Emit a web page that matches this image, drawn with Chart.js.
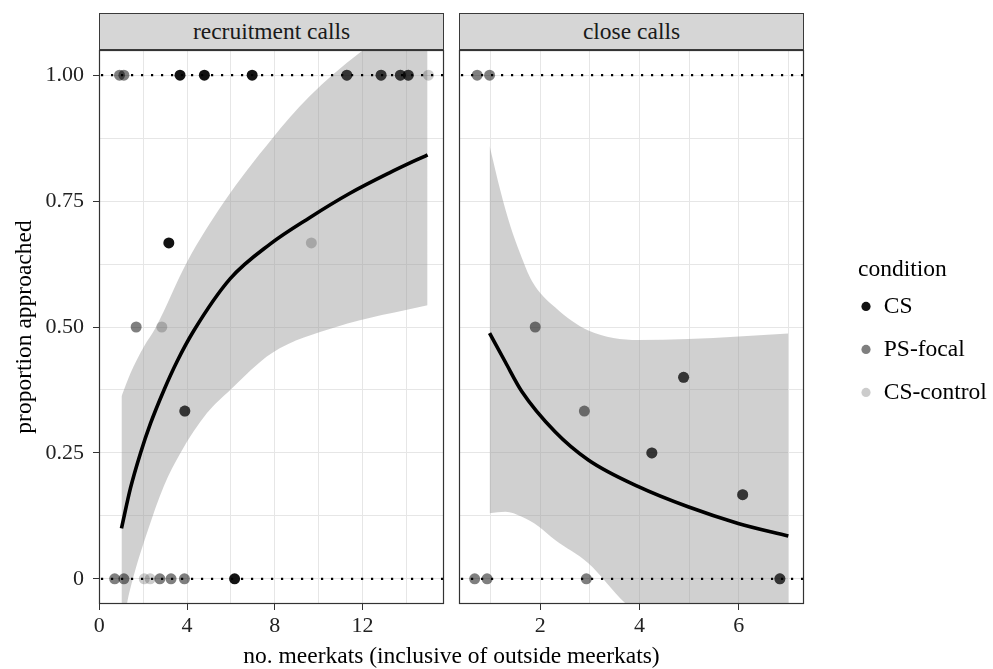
<!DOCTYPE html>
<html>
<head>
<meta charset="utf-8">
<script src="https://cdn.jsdelivr.net/npm/chart.js@4.4.1/dist/chart.umd.min.js"></script>
<style>
  body { margin: 0; background: #fff; overflow: hidden; width: 993px; height: 669px; position: relative;
         font-family: "Liberation Serif", "Times New Roman", serif; }
  canvas { position: absolute; }
  .strip { position: absolute; top: 13px; height: 37px; box-sizing: border-box; background: #d6d6d6;
           border: 1px solid #3a3a3a; font-size: 23.5px; line-height: 35px; text-align: center; color: #1a1a1a; }
  #xtitle { position: absolute; left: 99px; width: 705px; top: 641px; font-size: 23.5px; line-height: 28px;
            text-align: center; color: #000; }
  #legendTitle { position: absolute; left: 858px; top: 254px; font-size: 23.5px; line-height: 28px; color: #000; }
</style>
</head>
<body>
<div class="strip" style="left:99px;width:345px">recruitment calls</div>
<div class="strip" style="left:459px;width:345px">close calls</div>
<canvas id="recruit" width="446" height="619" style="left:0;top:50px"></canvas>
<canvas id="close" width="543" height="619" style="left:450px;top:50px"></canvas>
<div id="xtitle">no. meerkats (inclusive of outside meerkats)</div>
<div id="legendTitle">condition</div>
<script>
const serif = '"Liberation Serif", "Times New Roman", serif';

// recruitment calls panel
const recCsX = [3.68, 4.79, 6.97, 3.17, 6.17];
const recCsY = [1, 1, 1, 0.667, 0];
const recPsX = [0.92, 1.12, 11.29, 11.29, 12.85, 12.85, 13.73, 13.73, 14.09, 14.09, 1.68, 3.9, 3.9, 0.7, 1.12, 2.76, 3.27, 3.88];
const recPsY = [1, 1, 1, 1, 1, 1, 1, 1, 1, 1, 0.5, 0.333, 0.333, 0, 0, 0, 0, 0];
const recCtrlX = [15.01, 9.67, 2.85, 2.05, 2.32];
const recCtrlY = [1, 0.667, 0.5, 0, 0];
const recFitX = [1.01, 1.42, 1.88, 2.33, 2.94, 3.55, 4.30, 5.97, 7.80, 9.59, 11.41, 13.23, 14.97];
const recFitY = [0.100, 0.180, 0.250, 0.308, 0.374, 0.432, 0.492, 0.596, 0.665, 0.717, 0.765, 0.806, 0.842];
const recUpX = [1.01, 1.42, 2.03, 2.56, 4.0, 5.67, 7.86, 9.59, 11.86, 13.5, 14.97];
const recUpY = [0.362, 0.408, 0.461, 0.498, 0.629, 0.747, 0.873, 0.958, 1.044, 1.09, 1.13];
const recLoX = [1.01, 1.26, 1.53, 2.18, 2.94, 3.7, 4.91, 5.97, 7.86, 10.8, 14.97];
const recLoY = [-0.12, -0.05, 0.0, 0.092, 0.184, 0.25, 0.329, 0.375, 0.448, 0.5, 0.543];

// close calls panel
const cloCsX = [];
const cloCsY = [];
const cloPsX = [0.73, 0.98, 1.90, 2.89, 0.68, 0.93, 2.93, 4.25, 4.25, 4.89, 4.89, 6.08, 6.08, 6.83, 6.83];
const cloPsY = [1, 1, 0.5, 0.333, 0, 0, 0, 0.25, 0.25, 0.4, 0.4, 0.167, 0.167, 0, 0];
const cloCtrlX = [];
const cloCtrlY = [];
const cloFitX = [0.98, 1.30, 1.63, 2.30, 2.97, 3.98, 4.98, 5.99, 7.0];
const cloFitY = [0.488, 0.430, 0.372, 0.292, 0.236, 0.183, 0.143, 0.110, 0.085];
const cloUpX = [0.98, 1.2, 1.4, 1.6, 1.83, 2.30, 2.97, 3.98, 4.98, 6.0, 7.0];
const cloUpY = [0.86, 0.77, 0.70, 0.645, 0.592, 0.539, 0.493, 0.474, 0.476, 0.481, 0.487];
const cloLoX = [0.98, 1.30, 1.63, 1.97, 2.30, 2.97, 3.71, 5.0, 7.0];
const cloLoY = [0.13, 0.133, 0.123, 0.104, 0.077, 0.031, -0.048, -0.15, -0.3];

// axes
const yGrid = [0, 0.125, 0.25, 0.375, 0.5, 0.625, 0.75, 0.875, 1];
const yTickValues = [0, 0.25, 0.5, 0.75, 1];
const yTickLabels = ['0', '0.25', '0.50', '0.75', '1.00'];
const recXGrid = [0, 2, 4, 6, 8, 10, 12, 14];
const recXLabels = [0, 4, 8, 12];
const cloXGrid = [1, 2, 3, 4, 5, 6, 7];
const cloXLabels = [2, 4, 6];
const refLines = [0, 1];

const conditions = ['CS', 'PS-focal', 'CS-control'];
const condColors = ['rgba(0,0,0,0.93)', 'rgba(0,0,0,0.5)', 'rgba(0,0,0,0.2)'];

const pts = (xs, ys) => xs.map((x, i) => ({ x: x, y: ys[i] }));

// dotted lines at 0 and 1, plus the panel frame
const panelExtras = {
  id: 'panelExtras',
  afterDatasetsDraw(chart) {
    const { ctx, chartArea: a, scales: { y } } = chart;
    ctx.save();
    ctx.beginPath();
    ctx.rect(a.left, a.top, a.right - a.left, a.bottom - a.top);
    ctx.clip();
    ctx.strokeStyle = '#000';
    ctx.lineWidth = 2.2;
    ctx.setLineDash([2.2, 7.8]);
    refLines.forEach(v => {
      const py = y.getPixelForValue(v);
      ctx.beginPath();
      ctx.moveTo(a.left + 2, py);
      ctx.lineTo(a.right, py);
      ctx.stroke();
    });
    ctx.restore();
    ctx.save();
    ctx.strokeStyle = '#333';
    ctx.lineWidth = 1.2;
    ctx.strokeRect(a.left + 0.5, a.top + 0.5, a.right - a.left - 1, a.bottom - a.top - 1);
    ctx.restore();
  }
};

function makePanel(id, d, isLeft) {
  const datasets = [];
  d.points.forEach((p, i) => {
    datasets.push({
      label: conditions[i],
      data: pts(p[0], p[1]),
      showLine: false,
      pointStyle: 'circle',
      pointRadius: 5.5,
      pointBorderWidth: 0,
      borderWidth: 0,
      pointBackgroundColor: condColors[i],
      backgroundColor: condColors[i],
      borderColor: condColors[i],
      order: 0
    });
  });
  datasets.push({
    label: 'fit', data: pts(d.fit[0], d.fit[1]), borderColor: '#000', borderWidth: 3.6,
    pointRadius: 0, cubicInterpolationMode: 'monotone', fill: false, order: 1
  });
  datasets.push({
    label: 'upper', data: pts(d.up[0], d.up[1]), borderWidth: 0, pointRadius: 0,
    cubicInterpolationMode: 'monotone', fill: '+1', backgroundColor: 'rgba(150,150,150,0.45)', order: 2
  });
  datasets.push({
    label: 'lower', data: pts(d.lo[0], d.lo[1]), borderWidth: 0, pointRadius: 0,
    cubicInterpolationMode: 'monotone', fill: false, order: 2
  });

  const tickFont = { family: serif, size: 22 };
  const titleFont = { family: serif, size: 23.5 };
  const scales = {
    x: {
      type: 'linear', min: d.xMin, max: d.xMax,
      afterBuildTicks: s => { s.ticks = d.xGrid.map(v => ({ value: v })); },
      afterFit: s => { s.height = 65; s.paddingLeft = 0; s.paddingRight = 0; },
      ticks: { autoSkip: false, maxRotation: 0, padding: 3, font: tickFont, color: '#222',
               callback: v => d.xLabels.includes(v) ? String(v) : '' },
      grid: { color: '#e6e6e6', lineWidth: 1, tickLength: 6,
              tickColor: c => (c.tick && d.xLabels.includes(c.tick.value)) ? '#333' : 'rgba(0,0,0,0)' },
      border: { display: false }
    },
    y: {
      type: 'linear', min: -0.05, max: 1.05,
      afterBuildTicks: s => { s.ticks = yGrid.map(v => ({ value: v })); },
      afterFit: s => { s.width = isLeft ? 99 : 0; s.paddingTop = 0; s.paddingBottom = 0; },
      ticks: { display: isLeft, autoSkip: false, padding: 9, font: tickFont, color: '#222',
               callback: v => { const k = yTickValues.indexOf(v); return k >= 0 ? yTickLabels[k] : ''; } },
      grid: { color: '#e6e6e6', lineWidth: 1, drawTicks: isLeft, tickLength: isLeft ? 6 : 0,
              tickColor: c => (c.tick && yTickValues.includes(c.tick.value)) ? '#333' : 'rgba(0,0,0,0)' },
      border: { display: false },
      title: { display: isLeft, text: 'proportion approached', font: titleFont, color: '#000',
               padding: { top: 11, bottom: 0 } }
    }
  };
  if (!isLeft) {
    // empty axis that only keeps the legend away from the panel
    scales.gap = {
      type: 'linear', axis: 'y', position: 'right', display: true,
      ticks: { display: false }, grid: { display: false }, border: { display: false },
      afterFit: s => { s.width = 36.5; s.paddingTop = 0; s.paddingBottom = 0; }
    };
  }

  new Chart(document.getElementById(id), {
    type: 'line',
    data: { datasets: datasets },
    options: {
      responsive: false,
      animation: false,
      events: [],
      layout: {
        autoPadding: false,
        padding: isLeft ? { left: 0, right: 2, top: 0, bottom: 0 } : { left: 9, right: 4.5, top: 0, bottom: 0 }
      },
      scales: scales,
      plugins: {
        tooltip: { enabled: false },
        legend: {
          display: !isLeft,
          position: 'right',
          align: 'start',
          maxWidth: 148,
          labels: {
            usePointStyle: true, pointStyle: 'circle', boxWidth: 12, boxHeight: 6.5, padding: 19.5,
            font: titleFont, color: '#000',
            filter: item => item.datasetIndex < 3
          },
          title: { display: true, text: '', font: titleFont, padding: { top: 0, bottom: 197 } }
        }
      }
    },
    plugins: [panelExtras]
  });
}

makePanel('recruit', {
  points: [[recCsX, recCsY], [recPsX, recPsY], [recCtrlX, recCtrlY]],
  fit: [recFitX, recFitY], up: [recUpX, recUpY], lo: [recLoX, recLoY],
  xMin: -0.015, xMax: 15.72, xGrid: recXGrid, xLabels: recXLabels
}, true);

makePanel('close', {
  points: [[cloCsX, cloCsY], [cloPsX, cloPsY], [cloCtrlX, cloCtrlY]],
  fit: [cloFitX, cloFitY], up: [cloUpX, cloUpY], lo: [cloLoX, cloLoY],
  xMin: 0.364, xMax: 7.316, xGrid: cloXGrid, xLabels: cloXLabels
}, false);
</script>
</body>
</html>
